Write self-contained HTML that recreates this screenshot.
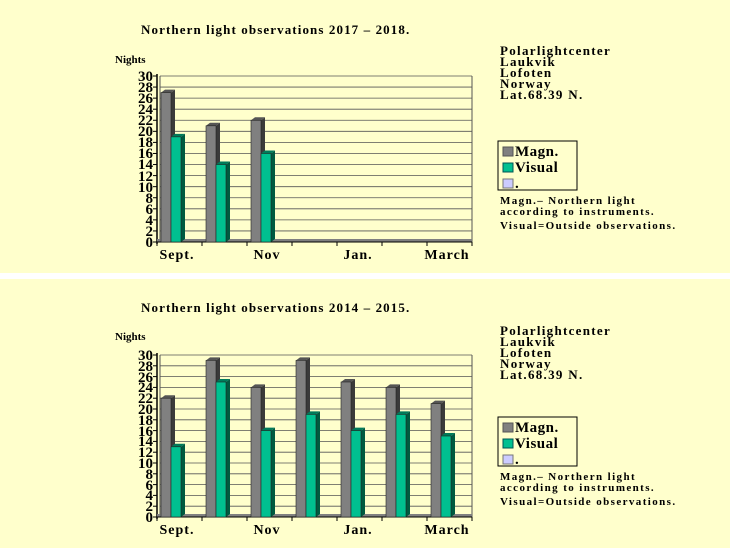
<!DOCTYPE html>
<html><head><meta charset="utf-8"><style>
body{margin:0;background:#ffffcc;}
svg{display:block;font-family:"Liberation Serif",serif;font-weight:bold;}
.t{font-size:13px;letter-spacing:1.1px}
.n{font-size:11px}
.k{font-size:15px;text-anchor:end}
.c{font-size:14px;text-anchor:middle;letter-spacing:1px}
.r{font-size:13px;letter-spacing:1.3px}
.s{font-size:11px;letter-spacing:1.4px}
.l{font-size:15px;letter-spacing:0.5px}
</style></head><body>
<svg id="s" width="730" height="548" xmlns="http://www.w3.org/2000/svg">
<rect x="0" y="0" width="730" height="548" fill="#ffffcc"/>
<rect x="0" y="273" width="730" height="6" fill="#ffffff"/>
<g id="g"></g>
<text class="t" x="141" y="34">Northern light observations 2017 – 2018.</text>
<text class="n" x="115" y="63">Nights</text>
<g class="k">
<text x="153" y="247">0</text><text x="153" y="236">2</text><text x="153" y="225">4</text><text x="153" y="214">6</text><text x="153" y="203">8</text><text x="153" y="192">10</text><text x="153" y="181">12</text><text x="153" y="169">14</text><text x="153" y="158">16</text><text x="153" y="147">18</text><text x="153" y="136">20</text><text x="153" y="125">22</text><text x="153" y="114">24</text><text x="153" y="103">26</text><text x="153" y="92">28</text><text x="153" y="81">30</text>
</g>
<g class="c"><text x="177" y="259">Sept.</text><text x="267" y="259">Nov</text><text x="358" y="259">Jan.</text><text x="447" y="259">March</text></g>
<g class="r"><text x="500" y="55">Polarlightcenter</text><text x="500" y="66">Laukvik</text><text x="500" y="77">Lofoten</text><text x="500" y="88">Norway</text><text x="500" y="99">Lat.68.39 N.</text></g>
<rect x="498" y="141" width="79" height="49" fill="#ffffcc" stroke="#000"/>
<rect x="503" y="147" width="10" height="9" fill="#808080" stroke="#555"/><text class="l" x="515" y="156">Magn.</text>
<rect x="503" y="163" width="10" height="9" fill="#00c090" stroke="#055"/><text class="l" x="515" y="172">Visual</text>
<rect x="503" y="179" width="10" height="9" fill="#ccccff" stroke="#777"/><text class="l" x="515" y="188">.</text>
<g class="s"><text x="500" y="204">Magn.– Northern light</text><text x="500" y="215">according to instruments.</text><text x="500" y="229">Visual=Outside observations.</text></g>
<text class="t" x="141" y="312">Northern light observations 2014  – 2015.</text>
<text class="n" x="115" y="340">Nights</text>
<g class="k">
<text x="153" y="522">0</text><text x="153" y="511">2</text><text x="153" y="500">4</text><text x="153" y="490">6</text><text x="153" y="479">8</text><text x="153" y="468">10</text><text x="153" y="457">12</text><text x="153" y="446">14</text><text x="153" y="436">16</text><text x="153" y="425">18</text><text x="153" y="414">20</text><text x="153" y="403">22</text><text x="153" y="392">24</text><text x="153" y="382">26</text><text x="153" y="371">28</text><text x="153" y="360">30</text>
</g>
<g class="c"><text x="177" y="534">Sept.</text><text x="267" y="534">Nov</text><text x="358" y="534">Jan.</text><text x="447" y="534">March</text></g>
<g class="r"><text x="500" y="335">Polarlightcenter</text><text x="500" y="346">Laukvik</text><text x="500" y="357">Lofoten</text><text x="500" y="368">Norway</text><text x="500" y="379">Lat.68.39 N.</text></g>
<rect x="498" y="417" width="79" height="49" fill="#ffffcc" stroke="#000"/>
<rect x="503" y="423" width="10" height="9" fill="#808080" stroke="#555"/><text class="l" x="515" y="432">Magn.</text>
<rect x="503" y="439" width="10" height="9" fill="#00c090" stroke="#055"/><text class="l" x="515" y="448">Visual</text>
<rect x="503" y="455" width="10" height="9" fill="#ccccff" stroke="#777"/><text class="l" x="515" y="464">.</text>
<g class="s"><text x="500" y="480">Magn.– Northern light</text><text x="500" y="491">according to instruments.</text><text x="500" y="505">Visual=Outside observations.</text></g>
</svg>
<script>
var g=document.getElementById('g'),h='';
function chart(y0,top,data){
 var L=157,R=472,sc=(y0-top)/30;
 h+='<rect x="'+L+'" y="'+top+'" width="'+(R-L)+'" height="'+(y0-top)+'" fill="#ffffcc"/>';
 for(var k=0;k<=15;k++){var y=y0-k*2*sc;h+='<line x1="'+(L+3)+'" x2="'+R+'" y1="'+y+'" y2="'+y+'" stroke="#555" stroke-width="0.8"/>';
  h+='<line x1="'+(L-4)+'" x2="'+L+'" y1="'+y+'" y2="'+y+'" stroke="#000"/>';}
 h+='<line x1="'+R+'" x2="'+R+'" y1="'+top+'" y2="'+y0+'" stroke="#555"/>';
 h+='<line x1="'+(L+3)+'" x2="'+(L+3)+'" y1="'+top+'" y2="'+y0+'" stroke="#555"/>';
 h+='<line x1="'+L+'" x2="'+L+'" y1="'+(top-2)+'" y2="'+(y0+2)+'" stroke="#000" stroke-width="1.5"/>';
 h+='<rect x="'+L+'" y="'+(y0-3)+'" width="'+(R-L)+'" height="3" fill="#808080"/>';
 h+='<line x1="'+L+'" x2="'+R+'" y1="'+y0+'" y2="'+y0+'" stroke="#000"/>';
 for(var i=0;i<=7;i++){var x=L+45*i;h+='<line x1="'+x+'" x2="'+x+'" y1="'+y0+'" y2="'+(y0+4)+'" stroke="#000"/>';}
 data.forEach(function(d,i){var c=L+22.5+45*i;
  bar(c-18.5,d[0],'#808080','#3a3a3a','#555');
  bar(c-8.5,d[1],'#00c090','#005a40','#007a5a');
  function bar(x,v,f,sd,tp){var y=y0-v*sc,w=10;
   h+='<polygon points="'+(x+w)+','+y+' '+(x+w+4)+','+(y-3)+' '+(x+w+4)+','+(y0-3)+' '+(x+w)+','+y0+'" fill="'+sd+'"/>';
   h+='<polygon points="'+x+','+y+' '+(x+4)+','+(y-3)+' '+(x+w+4)+','+(y-3)+' '+(x+w)+','+y+'" fill="'+tp+'"/>';
   h+='<rect x="'+x+'" y="'+y+'" width="'+w+'" height="'+(y0-y)+'" fill="'+f+'" stroke="#222" stroke-width="0.6"/>';}
 });
}
chart(242,76,[[27,19],[21,14],[22,16]]);
chart(517,355,[[22,13],[29,25],[24,16],[29,19],[25,16],[24,19],[21,15]]);
g.innerHTML=h;
</script>
</body></html>
